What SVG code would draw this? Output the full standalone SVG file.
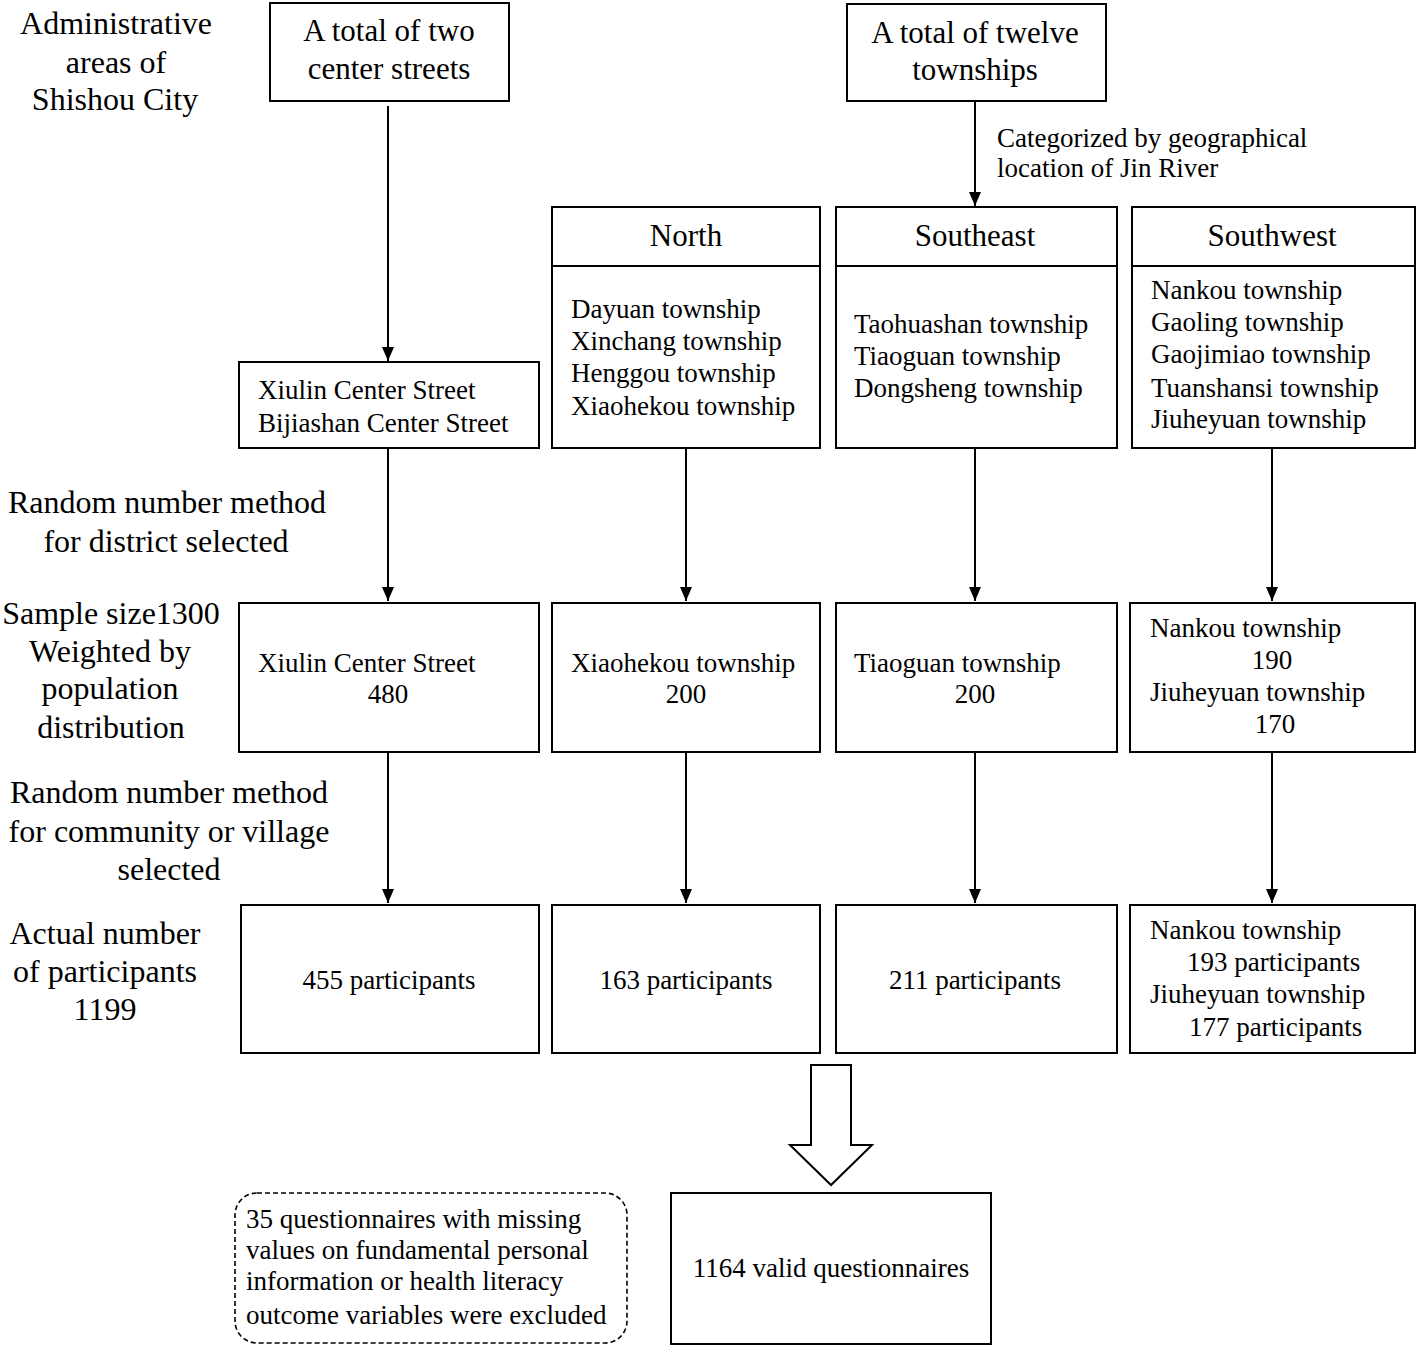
<svg xmlns="http://www.w3.org/2000/svg" width="1418" height="1348" viewBox="0 0 1418 1348">
<style>
.box{fill:#fff;stroke:#000;stroke-width:2}
.dash{fill:#fff;stroke:#000;stroke-width:1.6;stroke-dasharray:5,3}
.t{font-family:"Liberation Serif","Times New Roman",serif;font-size:27px;fill:#000}
.lbl{font-family:"Liberation Serif","Times New Roman",serif;font-size:32px;fill:#000;text-anchor:middle}
.big{font-family:"Liberation Serif","Times New Roman",serif;font-size:31px;fill:#000;text-anchor:middle}
.c{text-anchor:middle}
.ln{stroke:#000;stroke-width:2;fill:none}
</style>
<defs>
<marker id="ah" markerUnits="userSpaceOnUse" markerWidth="16" markerHeight="14" refX="14" refY="6" orient="auto">
<path d="M0,0 L14,6 L0,12 z" fill="#000"/>
</marker>
</defs>
<rect width="1418" height="1348" fill="#fff"/>

<g id="side-labels">
<text class="lbl" x="116" y="34">Administrative</text>
<text class="lbl" x="116" y="73">areas of</text>
<text class="lbl" x="115" y="110">Shishou City</text>
<text class="lbl" x="167" y="513">Random number method</text>
<text class="lbl" x="166" y="552">for district selected</text>
<text class="lbl" x="111" y="624">Sample size1300</text>
<text class="lbl" x="110" y="662">Weighted by</text>
<text class="lbl" x="110" y="699">population</text>
<text class="lbl" x="111" y="738">distribution</text>
<text class="lbl" x="169" y="803">Random number method</text>
<text class="lbl" x="169" y="842">for community or village</text>
<text class="lbl" x="169" y="880">selected</text>
<text class="lbl" x="105" y="944">Actual number</text>
<text class="lbl" x="105" y="982">of participants</text>
<text class="lbl" x="105" y="1020">1199</text>
</g>

<g id="connectors">
<line class="ln" x1="388" y1="106" x2="388" y2="361" marker-end="url(#ah)"/>
<line class="ln" x1="975" y1="101" x2="975" y2="206" marker-end="url(#ah)"/>
<line class="ln" x1="388" y1="448" x2="388" y2="601" marker-end="url(#ah)"/>
<line class="ln" x1="686" y1="448" x2="686" y2="601" marker-end="url(#ah)"/>
<line class="ln" x1="975" y1="448" x2="975" y2="601" marker-end="url(#ah)"/>
<line class="ln" x1="1272" y1="448" x2="1272" y2="601" marker-end="url(#ah)"/>
<line class="ln" x1="388" y1="752" x2="388" y2="903" marker-end="url(#ah)"/>
<line class="ln" x1="686" y1="752" x2="686" y2="903" marker-end="url(#ah)"/>
<line class="ln" x1="975" y1="752" x2="975" y2="903" marker-end="url(#ah)"/>
<line class="ln" x1="1272" y1="752" x2="1272" y2="903" marker-end="url(#ah)"/>
<polygon class="box" points="811,1065 851,1065 851,1145 872,1145 831,1185 790,1145 811,1145"/>
<text class="t" x="997" y="147">Categorized by geographical</text>
<text class="t" x="997" y="177">location of Jin River</text>
</g>

<g id="n-streets">
<rect class="box" x="270" y="3" width="239" height="98"/>
<text class="big" x="389" y="41">A total of two</text>
<text class="big" x="389" y="79">center streets</text>
</g>
<g id="n-townships">
<rect class="box" x="847" y="4" width="259" height="97"/>
<text class="big" x="975" y="43">A total of twelve</text>
<text class="big" x="975" y="80">townships</text>
</g>

<g id="n-centers">
<rect class="box" x="239" y="362" width="300" height="86"/>
<text class="t" x="258" y="399">Xiulin Center Street</text>
<text class="t" x="258" y="432">Bijiashan Center Street</text>
</g>
<g id="n-north">
<rect class="box" x="552" y="207" width="268" height="241"/>
<line class="ln" x1="552" y1="266" x2="820" y2="266"/>
<text class="big" x="686" y="246">North</text>
<text class="t" x="571" y="318">Dayuan township</text>
<text class="t" x="571" y="350">Xinchang township</text>
<text class="t" x="571" y="382">Henggou township</text>
<text class="t" x="571" y="415">Xiaohekou township</text>
</g>
<g id="n-southeast">
<rect class="box" x="836" y="207" width="281" height="241"/>
<line class="ln" x1="836" y1="266" x2="1117" y2="266"/>
<text class="big" x="975" y="246">Southeast</text>
<text class="t" x="854" y="333">Taohuashan township</text>
<text class="t" x="854" y="365">Tiaoguan township</text>
<text class="t" x="854" y="397">Dongsheng township</text>
</g>
<g id="n-southwest">
<rect class="box" x="1132" y="207" width="283" height="241"/>
<line class="ln" x1="1132" y1="266" x2="1415" y2="266"/>
<text class="big" x="1272" y="246">Southwest</text>
<text class="t" x="1151" y="299">Nankou township</text>
<text class="t" x="1151" y="331">Gaoling township</text>
<text class="t" x="1151" y="363">Gaojimiao township</text>
<text class="t" x="1151" y="397">Tuanshansi township</text>
<text class="t" x="1151" y="428">Jiuheyuan township</text>
</g>

<g id="s-xiulin">
<rect class="box" x="239" y="603" width="300" height="149"/>
<text class="t" x="258" y="672">Xiulin Center Street</text>
<text class="t c" x="388" y="703">480</text>
</g>
<g id="s-xiaohekou">
<rect class="box" x="552" y="603" width="268" height="149"/>
<text class="t" x="571" y="672">Xiaohekou township</text>
<text class="t c" x="686" y="703">200</text>
</g>
<g id="s-tiaoguan">
<rect class="box" x="836" y="603" width="281" height="149"/>
<text class="t" x="854" y="672">Tiaoguan township</text>
<text class="t c" x="975" y="703">200</text>
</g>
<g id="s-southwest">
<rect class="box" x="1130" y="603" width="285" height="149"/>
<text class="t" x="1150" y="637">Nankou township</text>
<text class="t c" x="1272" y="669">190</text>
<text class="t" x="1150" y="701">Jiuheyuan township</text>
<text class="t c" x="1275" y="733">170</text>
</g>

<g id="p-xiulin">
<rect class="box" x="241" y="905" width="298" height="148"/>
<text class="t c" x="389" y="989">455 participants</text>
</g>
<g id="p-xiaohekou">
<rect class="box" x="552" y="905" width="268" height="148"/>
<text class="t c" x="686" y="989">163 participants</text>
</g>
<g id="p-tiaoguan">
<rect class="box" x="836" y="905" width="281" height="148"/>
<text class="t c" x="975" y="989">211 participants</text>
</g>
<g id="p-southwest">
<rect class="box" x="1130" y="905" width="285" height="148"/>
<text class="t" x="1150" y="939">Nankou township</text>
<text class="t" x="1187" y="971">193 participants</text>
<text class="t" x="1150" y="1003">Jiuheyuan township</text>
<text class="t" x="1189" y="1036">177 participants</text>
</g>

<g id="excluded">
<rect class="dash" x="235" y="1193" width="392" height="150" rx="22"/>
<text class="t" x="246" y="1228">35 questionnaires with missing</text>
<text class="t" x="246" y="1259">values on fundamental personal</text>
<text class="t" x="246" y="1290">information or health literacy</text>
<text class="t" x="246" y="1324">outcome variables were excluded</text>
</g>
<g id="valid">
<rect class="box" x="671" y="1193" width="320" height="151"/>
<text class="t c" x="831" y="1277">1164 valid questionnaires</text>
</g>
</svg>
